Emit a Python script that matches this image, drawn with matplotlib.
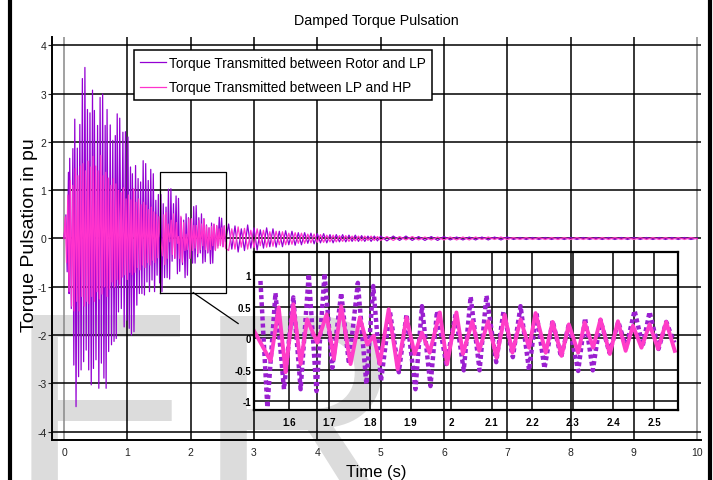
import numpy as np
import matplotlib
matplotlib.use("Agg")
import matplotlib.pyplot as plt
from matplotlib.lines import Line2D

plt.rcParams['font.family'] = ['Liberation Sans', 'DejaVu Sans']
plt.rcParams['axes.unicode_minus'] = False

# Torque Rotor-LP (purple): peak / trough values
rlp_max_t = [0.03, 0.07, 0.09, 0.14, 0.17, 0.21, 0.25, 0.29, 0.33, 0.37, 0.41, 0.45, 0.48,
             0.53, 0.57, 0.61, 0.65, 0.68, 0.73, 0.77, 0.81, 0.84, 0.88, 0.93, 0.97, 1.01,
             1.05, 1.08, 1.13, 1.17, 1.21, 1.25, 1.29, 1.33, 1.37, 1.41, 1.45, 1.49]
rlp_max_v = [0.49, 1.37, 1.66, 1.86, 2.47, 1.87, 2.36, 3.31, 3.54, 2.67, 2.60, 3.07, 2.65,
             2.34, 2.92, 2.99, 2.34, 2.67, 2.35, 2.03, 2.13, 2.58, 2.49, 2.20, 2.21, 2.10,
             1.48, 1.34, 1.51, 1.24, 1.17, 1.61, 1.55, 1.20, 1.43, 1.34, 0.79, 0.91]
rlp_min_t = [0.0, 0.05, 0.08, 0.115, 0.155, 0.19, 0.23, 0.27, 0.31, 0.35, 0.39, 0.43, 0.465,
             0.505, 0.55, 0.59, 0.63, 0.665, 0.705, 0.75, 0.79, 0.825, 0.86, 0.905, 0.95,
             0.99, 1.03, 1.065, 1.105, 1.15, 1.19, 1.23, 1.27, 1.31, 1.35, 1.39, 1.43, 1.47, 1.51]
rlp_min_v = [0.0, -0.69, -1.14, -1.45, -2.62, -3.48, -2.86, -2.72, -2.55, -2.31, -2.72, -3.03,
             -2.69, -2.51, -3.10, -2.58, -2.89, -3.10, -2.34, -2.20, -2.13, -2.07, -1.52, -1.45,
             -1.83, -1.69, -1.86, -2.00, -1.93, -1.38, -1.14, -1.14, -1.17, -0.90, -1.10, -0.86,
             -1.10, -0.76, -0.92]

# zoomed window 1.51 .. 2.56 s
rlp_zoom_t = [1.530, 1.547, 1.567, 1.588, 1.611, 1.629, 1.649, 1.668, 1.688, 1.707, 1.729,
              1.748, 1.770, 1.791, 1.808, 1.827, 1.849, 1.871, 1.890, 1.912, 1.928, 1.949,
              1.965, 1.988, 2.011, 2.031, 2.048, 2.070, 2.087, 2.111, 2.129, 2.152, 2.171,
              2.192, 2.210, 2.230, 2.250, 2.271, 2.290, 2.313, 2.330, 2.349, 2.368, 2.390,
              2.412, 2.431, 2.452, 2.472, 2.489, 2.511, 2.530, 2.550]
rlp_zoom_v = [0.91, -1.10, 0.72, -0.81, 0.65, -0.81, 1.02, -0.84, 1.03, -0.47, 0.72,
              -0.41, 0.88, -0.73, 0.83, -0.68, 0.43, -0.54, 0.38, -0.81, 0.51, -0.76,
              0.43, -0.41, 0.38, -0.51, 0.66, -0.51, 0.68, -0.38, 0.43, -0.30, 0.51,
              -0.51, 0.41, -0.48, 0.28, -0.30, 0.22, -0.52, 0.32, -0.51, 0.29, -0.23,
              0.26, -0.15, 0.44, -0.12, 0.42, -0.17, 0.26, -0.07]

# Torque LP-HP (magenta)
lhp_t = [0.00, 0.02, 0.04, 0.06, 0.08, 0.10, 0.12, 0.14, 0.16, 0.18, 0.20, 0.22, 0.24, 0.26,
         0.28, 0.30, 0.32, 0.34, 0.36, 0.38, 0.40, 0.42, 0.44, 0.46, 0.48, 0.50, 0.52, 0.54,
         0.56, 0.58, 0.60, 0.62, 0.64, 0.66, 0.68, 0.70, 0.72, 0.74, 0.76, 0.78, 0.80, 0.82,
         0.84, 0.86, 0.88, 0.90, 0.92, 0.94, 0.96, 0.98, 1.00, 1.02, 1.04, 1.06, 1.08, 1.10,
         1.12, 1.14, 1.16, 1.18, 1.20, 1.22, 1.24, 1.26, 1.28, 1.30, 1.32, 1.34, 1.36, 1.38,
         1.40, 1.42, 1.44, 1.46, 1.48, 1.50]
lhp_v = [0.0, 0.45, -0.5, 0.9, -1.1, 1.2, -1.4, 1.1, -1.5, 1.45, -1.3, 1.3, -1.5, 1.5,
         -1.2, 1.55, -1.4, 1.4, -1.3, 1.6, -1.35, 1.48, -1.2, 1.7, -1.3, 1.5, -1.1, 1.4,
         -1.25, 1.72, -1.15, 1.3, -1.0, 1.37, -1.2, 1.25, -1.05, 1.1, -0.9, 1.24, -1.0, 1.13,
         -0.85, 1.0, -0.95, 0.95, -0.8, 1.05, -0.75, 0.82, -0.85, 0.9, -0.7, 0.8, -0.75, 1.03,
         -0.7, 0.75, -0.6, 0.82, -0.65, 0.7, -0.55, 0.75, -0.6, 0.69, -0.5, 0.6, -0.55, 0.65,
         -0.45, 0.55, -0.5, 0.5, -0.4, 0.45]
lhp_zoom_t = [1.514, 1.555, 1.575, 1.592, 1.611, 1.629, 1.645, 1.670, 1.693, 1.711, 1.729,
              1.752, 1.775, 1.793, 1.809, 1.824, 1.846, 1.868, 1.890, 1.910, 1.928, 1.947,
              1.972, 1.990, 2.013, 2.029, 2.052, 2.069, 2.091, 2.112, 2.132, 2.151, 2.171,
              2.192, 2.208, 2.233, 2.250, 2.272, 2.290, 2.313, 2.329, 2.350, 2.368, 2.391,
              2.411, 2.430, 2.448, 2.469, 2.489, 2.510, 2.530, 2.551]
lhp_zoom_v = [0.12, -0.36, 0.49, -0.54, 0.54, -0.41, 0.30, -0.07, 0.38, -0.33, 0.51,
              -0.41, 0.33, -0.10, 0.04, -0.41, 0.46, -0.49, 0.33, -0.25, 0.09, -0.23,
              0.41, -0.41, 0.41, -0.25, 0.27, -0.20, 0.27, -0.31, 0.37, -0.23, 0.30,
              -0.15, 0.40, -0.23, 0.26, -0.28, 0.22, -0.23, 0.25, -0.15, 0.30, -0.25,
              0.27, -0.20, 0.20, -0.15, 0.22, -0.17, 0.26, -0.20]

# decaying tail after the zoomed window (both signals)
tail_t = [2.60, 2.65, 2.70, 2.75, 2.80, 2.85, 2.90, 2.95, 3.00, 3.05, 3.10, 3.15, 3.20,
          3.25, 3.30, 3.35, 3.40, 3.45, 3.50, 3.55, 3.60, 3.65, 3.70, 3.75, 3.80, 3.85,
          3.90, 3.95, 4.00, 4.05, 4.10, 4.15, 4.20, 4.25, 4.30, 4.35, 4.40, 4.45, 4.50,
          4.55, 4.60, 4.65, 4.70, 4.75, 4.80, 4.85, 4.90, 4.95, 5.00,
          5.1, 5.2, 5.3, 5.4, 5.5, 5.6, 5.7, 5.8, 5.9, 6.0,
          6.1, 6.2, 6.3, 6.4, 6.5, 6.6, 6.7, 6.8, 6.9, 7.0,
          7.1, 7.2, 7.3, 7.4, 7.5, 7.6, 7.7, 7.8, 7.9, 8.0,
          8.1, 8.2, 8.3, 8.4, 8.5, 8.6, 8.7, 8.8, 8.9, 9.0,
          9.1, 9.2, 9.3, 9.4, 9.5, 9.6, 9.7, 9.8, 9.9, 10.0]
rlp_tail_v = [0.30, -0.22, 0.26, -0.28, 0.20, -0.25, 0.28, -0.20, 0.22, -0.24, 0.18, -0.20,
              0.22, -0.17, 0.20, -0.18, 0.15, -0.17, 0.16, -0.13, 0.15, -0.14, 0.12, -0.13,
              0.12, -0.10, 0.11, -0.11, 0.10, -0.09, 0.10, -0.09, 0.08, -0.09, 0.08, -0.07,
              0.08, -0.07, 0.07, -0.06, 0.07, -0.06, 0.06, -0.06, 0.05, -0.06, 0.05, -0.05,
              0.05,
              -0.05, 0.05, -0.04, 0.05, -0.04, 0.04, -0.04, 0.04, -0.04, 0.04,
              -0.03, 0.03, -0.03, 0.03, -0.03, 0.03, -0.03, 0.03, -0.03, 0.03,
              -0.02, 0.02, -0.02, 0.02, -0.02, 0.02, -0.02, 0.02, -0.02, 0.02,
              -0.02, 0.02, -0.02, 0.02, -0.02, 0.02, -0.02, 0.02, -0.02, 0.02,
              -0.02, 0.02, -0.02, 0.02, -0.02, 0.02, -0.02, 0.02, -0.02, 0.01]
lhp_tail_v = [-0.25, 0.20, -0.22, 0.24, -0.18, 0.21, -0.22, 0.17, -0.19, 0.20, -0.15, 0.17,
              -0.18, 0.14, -0.16, 0.15, -0.13, 0.14, -0.13, 0.11, -0.12, 0.12, -0.10, 0.11,
              -0.10, 0.09, -0.09, 0.09, -0.08, 0.08, -0.08, 0.07, -0.07, 0.07, -0.07, 0.06,
              -0.06, 0.06, -0.06, 0.05, -0.05, 0.05, -0.05, 0.05, -0.04, 0.05, -0.04, 0.04,
              -0.04,
              0.04, -0.04, 0.04, -0.03, 0.04, -0.03, 0.03, -0.03, 0.03, -0.03,
              0.03, -0.03, 0.03, -0.03, 0.03, -0.02, 0.03, -0.02, 0.03, -0.02,
              0.02, -0.02, 0.02, -0.02, 0.02, -0.02, 0.02, -0.02, 0.02, -0.02,
              0.02, -0.02, 0.02, -0.02, 0.02, -0.02, 0.02, -0.02, 0.02, -0.02,
              0.02, -0.02, 0.02, -0.02, 0.02, -0.02, 0.02, -0.02, 0.02, -0.01]

zoom_box = (1.52, 2.56, -1.12, 1.38)
main_xticks = [0, 1, 2, 3, 4, 5, 6, 7, 8, 9, 10]
main_yticks = [-4, -3, -2, -1, 0, 1, 2, 3, 4]
inset_xticks = [1.6, 1.7, 1.8, 1.9, 2.0, 2.1, 2.2, 2.3, 2.4, 2.5]
inset_xlabels = ['1.6', '1.7', '1.8', '1.9', '2', '2.1', '2.2', '2.3', '2.4', '2.5']
inset_yticks = [-1, -0.5, 0, 0.5, 1]
inset_ylabels = ['-1', '-0.5', '0', '0.5', '1']

c_rlp = '#9400d3'
c_lhp = '#ff33cc'

# assemble purple series (maxima and minima in time order)
rlp_t = np.array(rlp_max_t + rlp_min_t + rlp_zoom_t + tail_t)
rlp_v = np.array(rlp_max_v + rlp_min_v + rlp_zoom_v + rlp_tail_v)
o = np.argsort(rlp_t, kind='stable')
rlp_t, rlp_v = rlp_t[o], rlp_v[o]

lhp_all_t = np.array(lhp_t + lhp_zoom_t + tail_t)
lhp_all_v = np.array(lhp_v + lhp_zoom_v + lhp_tail_v)

fig = plt.figure(figsize=(7.13, 4.81), dpi=100)

# watermark
fig.text(0.011, -0.062, 'ER', fontsize=205, color='#dcdcdc',
         ha='left', va='baseline', zorder=-5)

# frame lines at the left / right of the page
fig.add_artist(Line2D([0.0145, 0.0145], [0, 1], color='black', lw=3, transform=fig.transFigure))
fig.add_artist(Line2D([0.9955, 0.9955], [0, 1], color='black', lw=3, transform=fig.transFigure))

ax = fig.add_axes([0.0729, 0.0832, 0.9103, 0.8378])
ax.patch.set_alpha(0)
ax.plot(rlp_t, rlp_v, color=c_rlp, lw=0.9, label='Torque Transmitted between Rotor and LP')
ax.plot(lhp_all_t, lhp_all_v, color=c_lhp, lw=0.9, label='Torque Transmitted between LP and HP')
ax.set_xlim(-0.19, 10.06)
ax.set_ylim(-4.17, 4.17)
ax.set_xticks(main_xticks)
ax.set_yticks(main_yticks)
ax.grid(True, color='black', lw=1.1)
for i, gl in enumerate(ax.get_xgridlines()):
    if main_xticks[i] in (0, 10):
        gl.set_color('#888888')
ax.set_axisbelow(True)
for s in ['top', 'right']:
    ax.spines[s].set_visible(False)
for s in ['left', 'bottom']:
    ax.spines[s].set_linewidth(1.4)
ax.tick_params(axis='y', direction='out', length=3, pad=1, labelsize=7.5, colors='#222222')
ax.tick_params(axis='x', length=0, pad=5, labelsize=7.5, colors='#222222')

ax.set_title('Damped Torque Pulsation', fontsize=10.3, pad=9)
ax.set_xlabel('Time (s)', fontsize=12, labelpad=5)
ax.set_ylabel('Torque Pulsation in pu', fontsize=14)
ax.yaxis.set_label_coords(-0.021, 0.51)

leg = ax.legend(loc='upper left', bbox_to_anchor=(0.1265, 0.968), borderaxespad=0,
                fontsize=9.8, fancybox=False, framealpha=1, edgecolor='black',
                handlelength=1.9, handletextpad=0.2, borderpad=0.45, labelspacing=0.76)
leg.get_frame().set_linewidth(1.1)

# zoom rectangle and connector
x0, x1, y0, y1 = zoom_box
ax.plot([x0, x1, x1, x0, x0], [y0, y0, y1, y1, y0], color='black', lw=0.9)
ax.plot([2.04, 2.75], [-1.12, -1.76], color='black', lw=0.9)

# inset
ins = fig.add_axes([0.3562, 0.1455, 0.5947, 0.3285])
ins.patch.set_alpha(0)
ins.plot(rlp_zoom_t, rlp_zoom_v, color='#9a1fd0', lw=3.2, linestyle=(0, (0.9, 0.7)))
ins.plot(lhp_zoom_t, lhp_zoom_v, color='#ff3dc8', lw=2.8)
ins.set_xlim(1.514, 2.559)
ins.set_ylim(-1.14, 1.37)
ins.set_xticks(inset_xticks)
ins.set_xticklabels(inset_xlabels)
ins.set_yticks(inset_yticks)
ins.set_yticklabels(inset_ylabels)
ins.grid(True, color='black', lw=1.1)
ins.set_axisbelow(True)
for s in ins.spines.values():
    s.set_linewidth(1.6)
ins.tick_params(length=0, labelsize=7, pad=5)
for lab in ins.get_xticklabels() + ins.get_yticklabels():
    lab.set_fontweight('bold')
ins.tick_params(axis='y', pad=2)

fig.savefig('out.png', dpi=100)
